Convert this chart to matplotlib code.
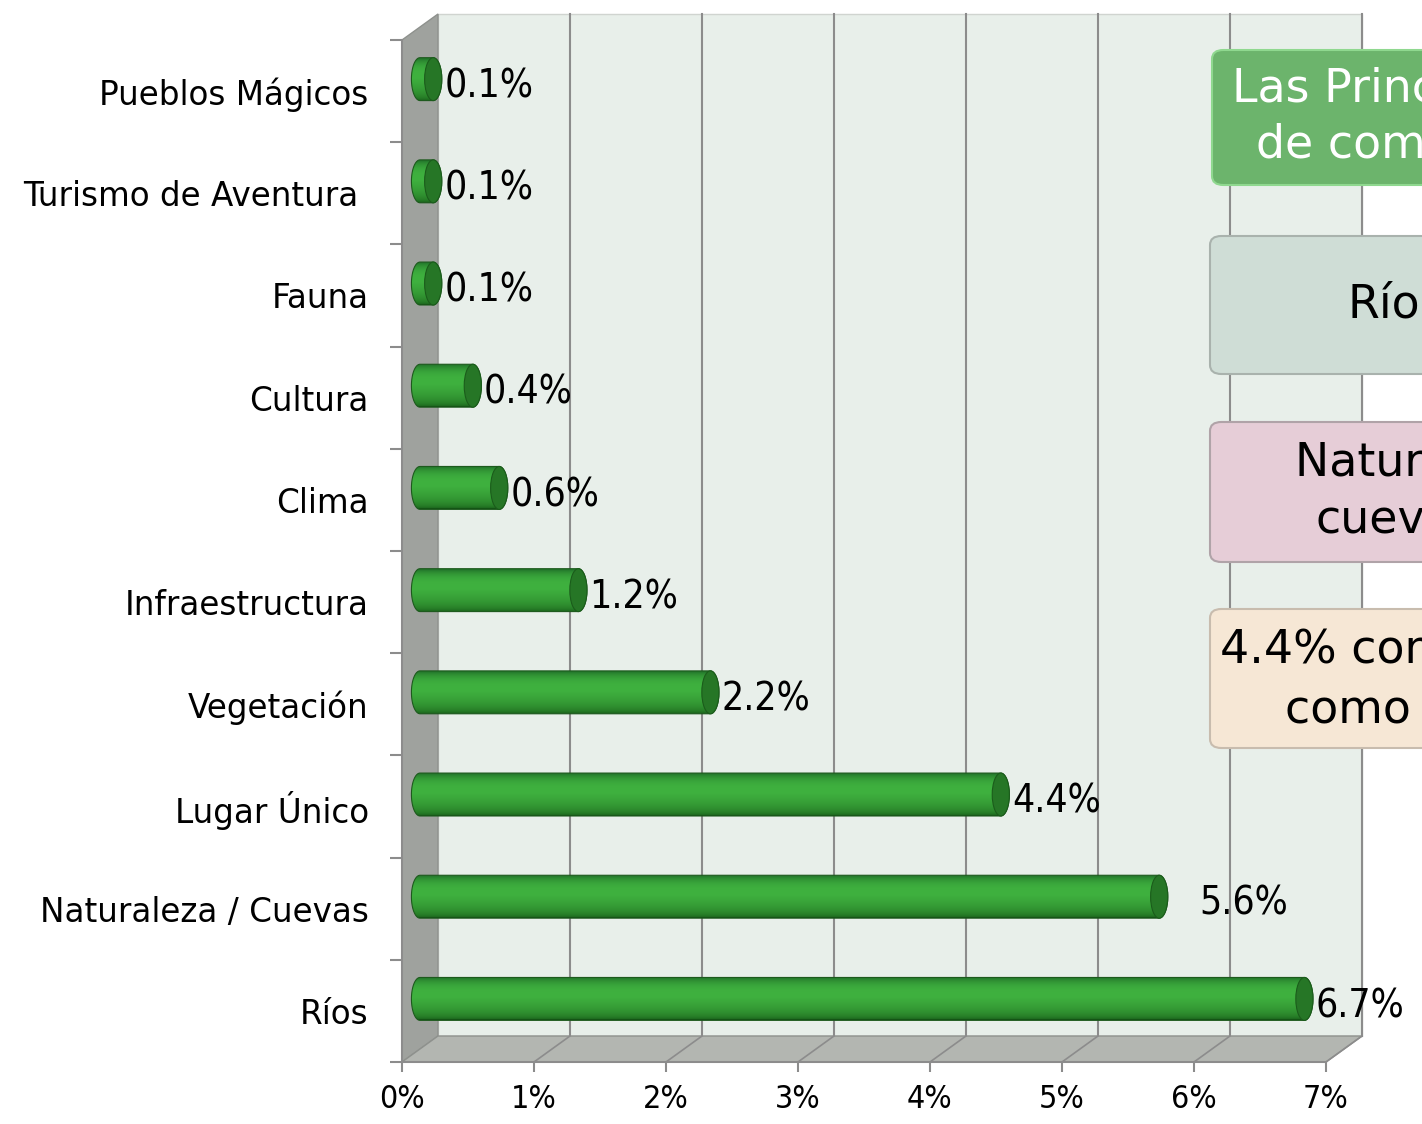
import numpy as np
import matplotlib.pyplot as plt
from matplotlib.patches import Polygon, Ellipse, PathPatch, FancyBboxPatch
from matplotlib.path import Path
from matplotlib.colors import to_rgb

categories = ["Ríos", "Naturaleza / Cuevas", "Lugar Único", "Vegetación",
              "Infraestructura", "Clima", "Cultura", "Fauna",
              "Turismo de Aventura ", "Pueblos Mágicos"]
values = [6.7, 5.6, 4.4, 2.2, 1.2, 0.6, 0.4, 0.1, 0.1, 0.1]
xticks = [0, 1, 2, 3, 4, 5, 6, 7]

# callout boxes on the right (cut by the image edge)
box_lines = [["Las Principales razones", "de comentarios positivos"],
             ["Ríos"],
             ["Naturaleza y", "cuevas"],
             ["4.4% comentan", "como Lugar Único"]]

W, H = 1422, 1124
fig = plt.figure(figsize=(W / 100, H / 100), dpi=100)
ax = fig.add_axes([402 / W, 62 / H, 924 / W, 1022 / H])
ax.set_xlim(0, 7)
ax.set_ylim(-0.5, 9.5)

# 3d depth offset in data units
dx, dy = 36 / 132, 26 / 102.2
ytop, ybot = 9.5, -0.5

# back wall
ax.add_patch(Polygon([(dx, ybot + dy), (7 + dx, ybot + dy), (7 + dx, ytop + dy), (dx, ytop + dy)],
                     closed=True, fc="#e8efea", ec="#d0d4d0", lw=1, clip_on=False, zorder=0))
# side wall
ax.add_patch(Polygon([(0, ybot), (dx, ybot + dy), (dx, ytop + dy), (0, ytop)],
                     closed=True, fc="#9fa29e", ec="#8e918d", lw=1, clip_on=False, zorder=1))
# floor
ax.add_patch(Polygon([(0, ybot), (7, ybot), (7 + dx, ybot + dy), (dx, ybot + dy)],
                     closed=True, fc="#b3b6b1", ec="#8e918d", lw=1, clip_on=False, zorder=1))
for k in xticks[1:]:
    ax.plot([k + dx, k + dx], [ybot + dy, ytop + dy], color="#8c8c8c", lw=1.5, clip_on=False, zorder=0.5)
    ax.plot([k, k + dx], [ybot, ybot + dy], color="#8c8c8c", lw=1.2, clip_on=False, zorder=1.5)

# cylinders
top_c, mid_c, bot_c = to_rgb("#22742a"), to_rgb("#3fb13f"), to_rgb("#0f4a10")
n = 60
t = np.linspace(0, 1, n)
grad = np.zeros((n, 1, 3))
for j, tt in enumerate(t):
    if tt < 0.55:
        f = tt / 0.55
        c = np.array(bot_c) * (1 - f ** 0.35) + np.array(mid_c) * f ** 0.35
    else:
        f = (tt - 0.55) / 0.45
        c = np.array(mid_c) * (1 - f ** 3) + np.array(top_c) * f ** 3
    grad[j, 0] = c

hh = 0.21
ew = 0.065
for i, v in enumerate(values):
    x0 = dx / 2
    x1 = v + dx / 2
    yc = i + dy / 2 - 0.01
    th = np.linspace(-np.pi / 2, np.pi / 2, 40)
    right = np.column_stack([x1 + ew * np.cos(th), yc + hh * np.sin(th)])
    left = np.column_stack([x0 - ew * np.cos(th[::-1]), yc + hh * np.sin(th[::-1])])
    verts = np.vstack([right, left, right[:1]])
    capsule = PathPatch(Path(verts), fc="none", ec="none", zorder=2)
    ax.add_patch(capsule)
    im = ax.imshow(grad, extent=[x0 - ew, x1 + ew, yc - hh, yc + hh], origin="lower",
                   aspect="auto", zorder=2, interpolation="bilinear")
    im.set_clip_path(capsule)
    ax.add_patch(Polygon(verts, closed=True, fc="none", ec="#1d5a1d", lw=0.8, zorder=2.1))
    ax.add_patch(Ellipse((x1, yc), 2 * ew, 2 * hh, fc="#267626", ec="#1b5c1b", lw=0.8, zorder=3))
    ax.text(x1 + ew + (0.24 if i == 1 else 0.02), yc - 0.07, f"{v:.1f}%", ha="left", va="center",
            fontsize=28, fontstretch="condensed", zorder=4)

ax.set_xlim(0, 7)
ax.set_ylim(-0.5, 9.5)

# axes styling
for s in ["top", "right"]:
    ax.spines[s].set_visible(False)
for s in ["left", "bottom"]:
    ax.spines[s].set_color("#8c8c8c")
    ax.spines[s].set_linewidth(1.5)
    ax.spines[s].set_zorder(1.6)
ax.set_xticks(xticks)
ax.set_xticklabels([f"{k}%" for k in xticks], fontsize=23, fontstretch="condensed")
ax.tick_params(axis="x", length=7, width=1.5, color="#8c8c8c", pad=9)
ax.set_yticks(range(len(categories)))
ax.set_yticklabels(categories, fontsize=23.5)
ax.set_yticks(np.arange(-0.5, 10, 1), minor=True)
ax.tick_params(axis="y", which="major", length=0, pad=24)
ax.tick_params(axis="y", which="minor", length=9, width=1.5, color="#8c8c8c")
ax.set_facecolor("none")

# callout boxes (figure pixel coords)
boxes = [(1212, 50, 185, "#6cb46c", "#8fd88f", "white"),
         (1210, 236, 374, "#cfddd6", "#a9b2ad", "black"),
         (1210, 422, 562, "#e6cdd7", "#b0a3a8", "black"),
         (1210, 609, 748, "#f6e7d5", "#c8bcae", "black")]
line_x = [[1232, 1256], [1348], [1295, 1316], [1220, 1285]]
for (bx, y0, y1, fc, ec, tc), lines, lx in zip(boxes, box_lines, line_x):
    fig.patches.append(FancyBboxPatch((bx / W, 1 - y1 / H), 400 / W, (y1 - y0) / H,
                                      boxstyle="round,pad=0,rounding_size=0.008",
                                      transform=fig.transFigure, fc=fc, ec=ec, lw=1.5,
                                      zorder=5))
    nl = len(lines)
    cy = (y0 + y1) / 2
    for j, (ln, x) in enumerate(zip(lines, lx)):
        yy = cy + (j - (nl - 1) / 2) * 56
        fig.text(x / W, 1 - yy / H, ln, ha="left", va="center", fontsize=33, color=tc,
                 zorder=6)

fig.savefig("out.png", dpi=100)
